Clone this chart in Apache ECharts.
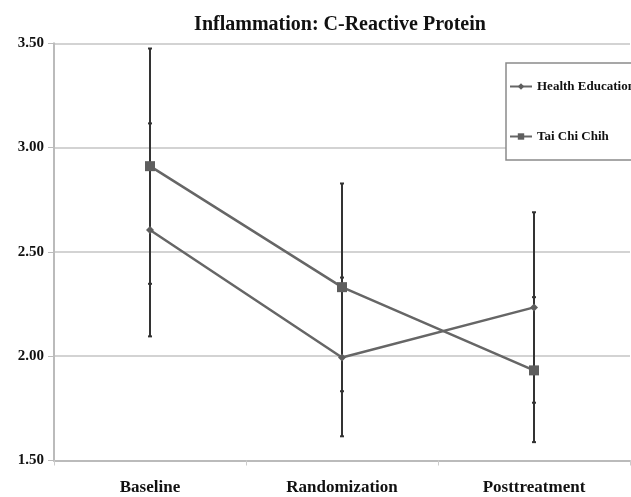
<!DOCTYPE html>
<html>
<head>
<meta charset="utf-8">
<script src="https://cdn.jsdelivr.net/npm/echarts@6/dist/echarts.min.js"></script>
<style>
  html, body { margin: 0; padding: 0; background: #fff; }
  #main { width: 631px; height: 497px; }
</style>
</head>
<body>
<div id="main"></div>
<script>
var categories = ['Baseline', 'Randomization', 'Posttreatment'];
var seriesNames = ['Health Education', 'Tai Chi Chih'];

// means and error bar ends
var healthMean = [2.605, 1.994, 2.234];
var healthLow = [2.095, 1.616, 1.777];
var healthHigh = [3.116, 2.377, 2.690];

var taiChiMean = [2.911, 2.331, 1.932];
var taiChiLow = [2.347, 1.832, 1.588];
var taiChiHigh = [3.475, 2.828, 2.283];

var yMin = 1.5, yMax = 3.5, yStep = 0.5;

var serif = "'Liberation Serif', 'Times New Roman', serif";

function errData(low, high) {
  var out = [];
  for (var i = 0; i < low.length; i++) {
    out.push([i, low[i], high[i]]);
  }
  return out;
}

function renderErr(params, api) {
  var lo = api.coord([api.value(0), api.value(1)]);
  var hi = api.coord([api.value(0), api.value(2)]);
  var cap = 2;
  var st = { stroke: '#333', lineWidth: 2 };
  return {
    type: 'group',
    children: [
      { type: 'line', shape: { x1: lo[0], y1: lo[1], x2: hi[0], y2: hi[1] }, style: st },
      { type: 'line', shape: { x1: lo[0] - cap, y1: lo[1], x2: lo[0] + cap, y2: lo[1] }, style: st },
      { type: 'line', shape: { x1: hi[0] - cap, y1: hi[1], x2: hi[0] + cap, y2: hi[1] }, style: st }
    ]
  };
}

var chart = echarts.init(document.getElementById('main'), null, { renderer: 'canvas' });

var option = {
  backgroundColor: '#fff',
  animation: false,
  title: {
    text: 'Inflammation: C-Reactive Protein',
    left: 335,
    textAlign: 'center',
    top: 10,
    textStyle: { fontFamily: serif, fontWeight: 'bold', fontSize: 20, color: '#111' }
  },
  graphic: [{
    type: 'rect',
    z: 3,
    shape: { x: 506, y: 63, width: 200, height: 97 },
    style: { fill: '#fff', stroke: '#8a8a8a', lineWidth: 1.5 }
  }],
  legend: {
    data: seriesNames,
    orient: 'vertical',
    left: 509,
    top: 80,
    padding: 0,
    itemWidth: 22,
    itemHeight: 8,
    itemGap: 37,
    z: 5,
    textStyle: { fontFamily: serif, fontWeight: 'bold', fontSize: 13, color: '#111' }
  },
  grid: { left: 54, right: 1, top: 43.3, bottom: 36.5 },
  xAxis: {
    type: 'category',
    data: categories,
    boundaryGap: true,
    axisLine: { lineStyle: { color: '#bbb', width: 2 } },
    axisTick: { show: true, length: 5, lineStyle: { color: '#ccc' } },
    axisLabel: { margin: 19, fontFamily: serif, fontWeight: 'bold', fontSize: 17, color: '#111' }
  },
  yAxis: {
    type: 'value',
    min: yMin,
    max: yMax,
    interval: yStep,
    axisLine: { show: true, lineStyle: { color: '#bbb', width: 2 } },
    axisTick: { show: true, length: 6, lineStyle: { color: '#bbb' } },
    axisLabel: {
      margin: 10,
      fontFamily: serif, fontWeight: 'bold', fontSize: 15, color: '#111',
      formatter: function (v) { return v.toFixed(2); }
    },
    splitLine: { lineStyle: { color: '#c4c4c4', width: 1.5 } }
  },
  series: [
    {
      type: 'custom',
      name: 'err1',
      renderItem: renderErr,
      data: errData(healthLow, healthHigh),
      z: 1,
      silent: true
    },
    {
      type: 'custom',
      name: 'err2',
      renderItem: renderErr,
      data: errData(taiChiLow, taiChiHigh),
      z: 1,
      silent: true
    },
    {
      name: seriesNames[0],
      type: 'line',
      data: healthMean,
      symbol: 'diamond',
      symbolSize: 8,
      z: 2,
      lineStyle: { color: '#666', width: 2.5 },
      itemStyle: { color: '#5e5e5e' }
    },
    {
      name: seriesNames[1],
      type: 'line',
      data: taiChiMean,
      symbol: 'rect',
      symbolSize: 10,
      z: 2,
      lineStyle: { color: '#666', width: 2.5 },
      itemStyle: { color: '#5e5e5e' }
    }
  ]
};

chart.setOption(option);
</script>
</body>
</html>
